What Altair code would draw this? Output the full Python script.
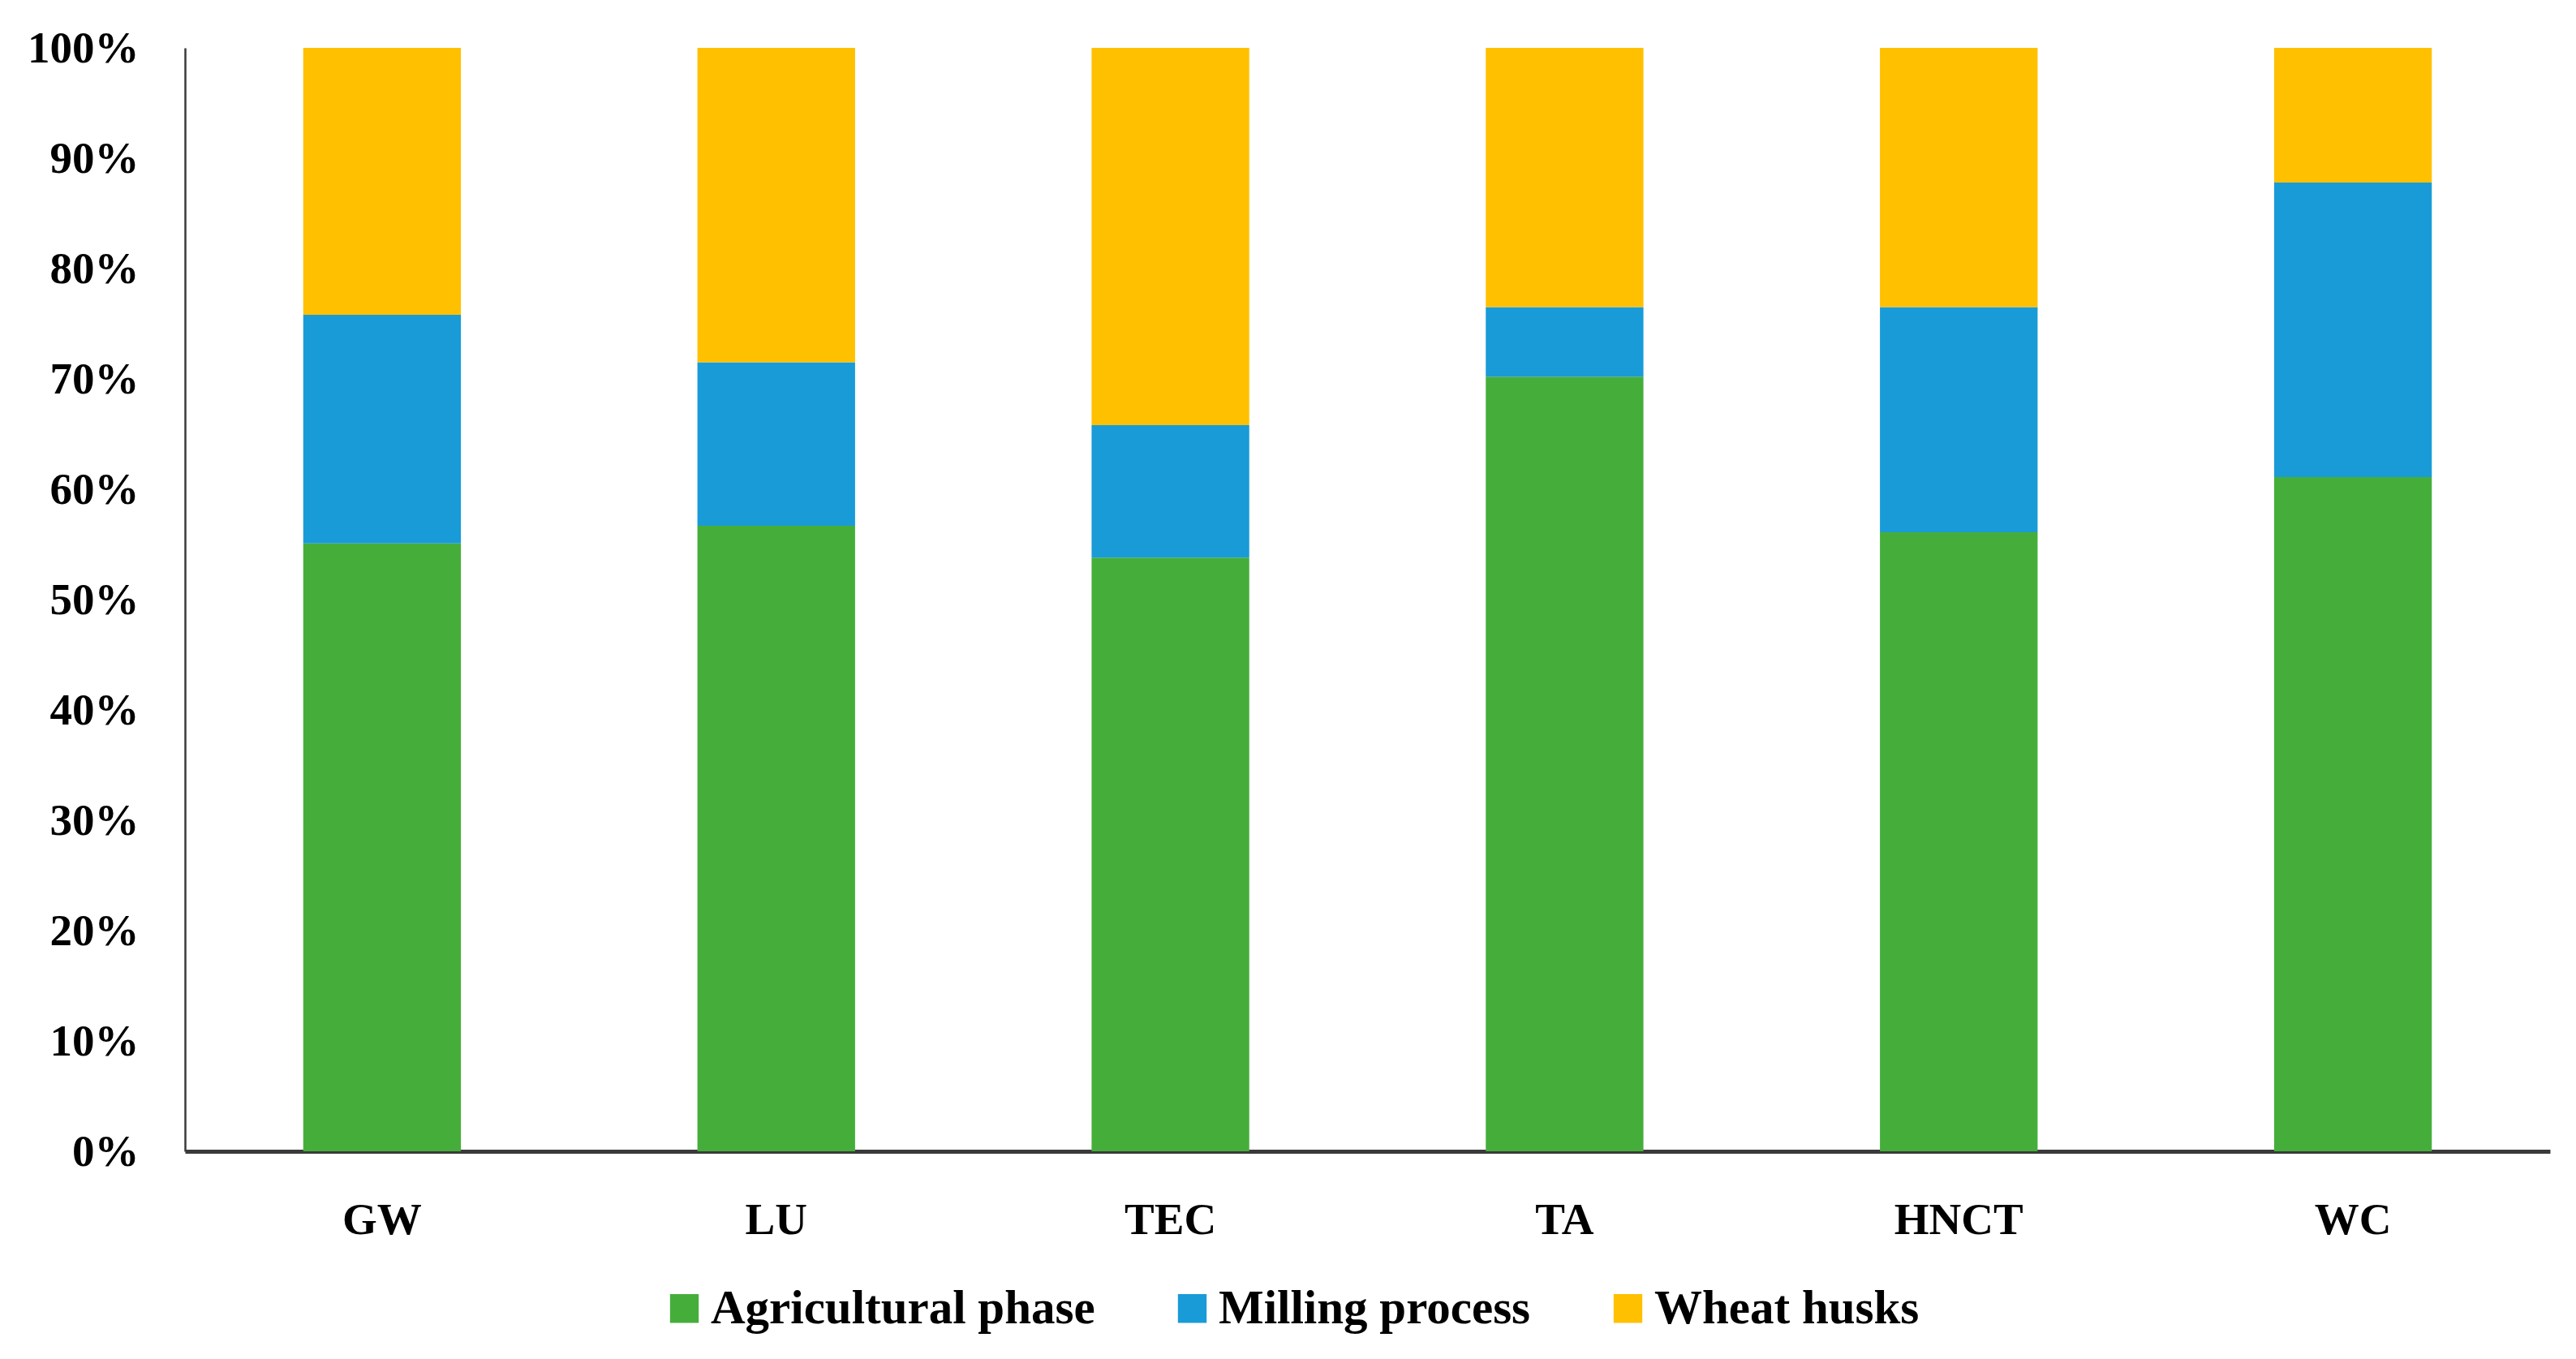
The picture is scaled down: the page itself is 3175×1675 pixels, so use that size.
import pandas as pd
import altair as alt

categories = ['GW', 'LU', 'TEC', 'TA', 'HNCT', 'WC']
phases = ['Agricultural phase', 'Milling process', 'Wheat husks']
colors = ['#45AE3B', '#199BD7', '#FFC000']

# share of each phase (%)
agricultural = [55.1, 56.7, 53.8, 70.2, 56.1, 61.1]
milling = [20.7, 14.8, 12.0, 6.3, 20.4, 26.7]
husks = [24.2, 28.5, 34.2, 23.5, 23.5, 12.2]

rows = []
for i, cat in enumerate(categories):
    for j, (phase, vals) in enumerate(zip(phases, [agricultural, milling, husks])):
        rows.append({'category': cat, 'phase': phase, 'share': vals[i], 'idx': j})
df = pd.DataFrame(rows)

font = 'Liberation Serif'

chart = alt.Chart(df).mark_bar().encode(
    x=alt.X('category:N', sort=categories, title=None,
            scale=alt.Scale(paddingInner=0.6, paddingOuter=0.3),
            axis=alt.Axis(labelAngle=0, ticks=False, labelPadding=58,
                          domainColor='#3a3a3a', domainWidth=5)),
    y=alt.Y('share:Q', stack='normalize', title=None,
            scale=alt.Scale(domain=[0, 1], nice=False),
            axis=alt.Axis(format='.0%', values=[i / 10 for i in range(11)], grid=False,
                          ticks=False, labelPadding=57,
                          domainColor='#3a3a3a', domainWidth=2.5)),
    color=alt.Color('phase:N', sort=phases, title=None,
                    scale=alt.Scale(domain=phases, range=colors),
                    legend=alt.Legend(orient='none', direction='horizontal',
                                      legendX=586, legendY=1524,
                                      symbolType='square', symbolSize=1250,
                                      symbolStrokeWidth=0, labelOffset=3,
                                      columnPadding=90)),
    order=alt.Order('idx:Q', sort='ascending'),
).properties(
    width=2915, height=1360,
    autosize=alt.AutoSizeParams(type='none'),
    padding={'left': 220, 'top': 51, 'right': 20, 'bottom': 230},
).configure_view(
    stroke=None
).configure_axis(
    labelFont=font, labelFontSize=55, labelFontWeight='bold', labelColor='#000000'
).configure_legend(
    labelFont=font, labelFontSize=59, labelFontWeight='bold', labelColor='#000000',
    labelLimit=0
)

chart.save('out.html', embed_options={'renderer': 'svg', 'actions': False})
